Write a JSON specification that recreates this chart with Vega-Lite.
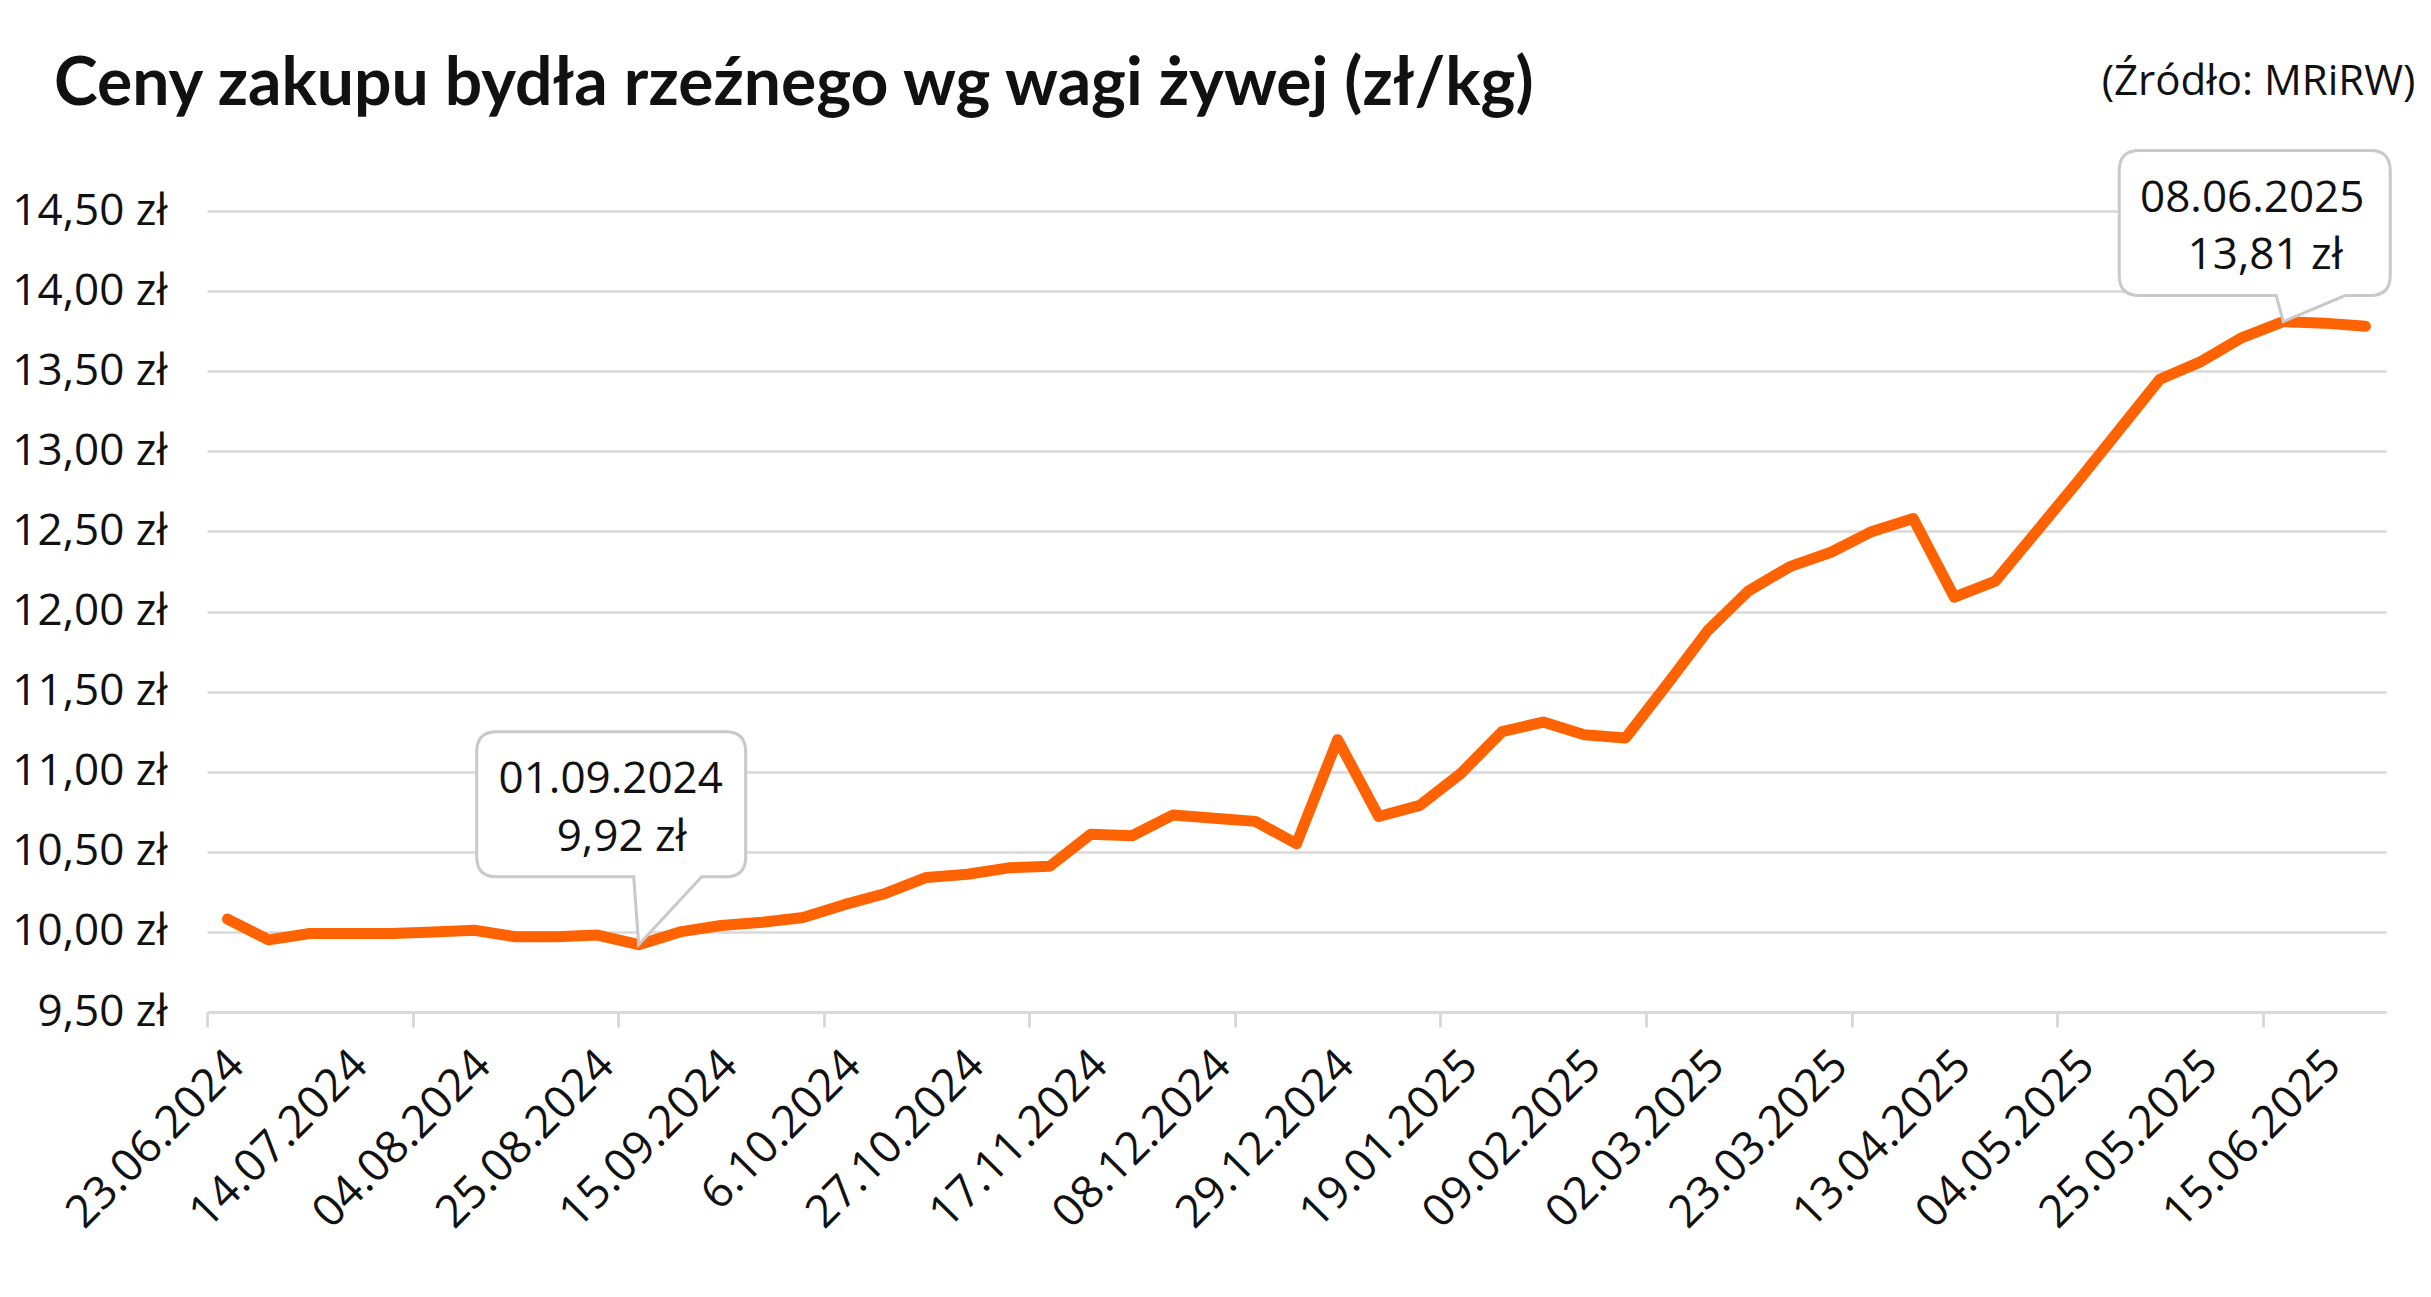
{
  "$schema": "https://vega.github.io/schema/vega-lite/v6.json",
  "width": 2179,
  "height": 801,
  "autosize": "none",
  "padding": {"left": 207, "top": 211, "right": 45, "bottom": 285},
  "background": "white",
  "config": {"view": {"stroke": null}, "font": "Open Sans"},
  "title": {
    "text": "Ceny zakupu bydła rzeźnego wg wagi żywej (zł/kg)",
    "anchor": "start",
    "frame": "group",
    "dx": -153,
    "offset": -110,
    "baseline": "alphabetic",
    "font": "Liberation Sans Narrow, Lato",
    "fontSize": 66,
    "fontWeight": "bold",
    "color": "#111111"
  },
  "data": {
    "values": [
      {"date": "2024-06-23", "value": 10.08},
      {"date": "2024-06-30", "value": 9.95},
      {"date": "2024-07-07", "value": 9.99},
      {"date": "2024-07-14", "value": 9.99},
      {"date": "2024-07-21", "value": 9.99},
      {"date": "2024-07-28", "value": 10.00},
      {"date": "2024-08-04", "value": 10.01},
      {"date": "2024-08-11", "value": 9.97},
      {"date": "2024-08-18", "value": 9.97},
      {"date": "2024-08-25", "value": 9.98},
      {"date": "2024-09-01", "value": 9.92},
      {"date": "2024-09-08", "value": 10.00},
      {"date": "2024-09-15", "value": 10.04},
      {"date": "2024-09-22", "value": 10.06},
      {"date": "2024-09-29", "value": 10.09},
      {"date": "2024-10-06", "value": 10.17},
      {"date": "2024-10-13", "value": 10.24},
      {"date": "2024-10-20", "value": 10.34},
      {"date": "2024-10-27", "value": 10.36},
      {"date": "2024-11-03", "value": 10.40},
      {"date": "2024-11-10", "value": 10.41},
      {"date": "2024-11-17", "value": 10.61},
      {"date": "2024-11-24", "value": 10.60},
      {"date": "2024-12-01", "value": 10.73},
      {"date": "2024-12-08", "value": 10.71},
      {"date": "2024-12-15", "value": 10.69},
      {"date": "2024-12-22", "value": 10.55},
      {"date": "2024-12-29", "value": 11.20},
      {"date": "2025-01-05", "value": 10.72},
      {"date": "2025-01-12", "value": 10.79},
      {"date": "2025-01-19", "value": 10.99},
      {"date": "2025-01-26", "value": 11.25},
      {"date": "2025-02-02", "value": 11.31},
      {"date": "2025-02-09", "value": 11.23},
      {"date": "2025-02-16", "value": 11.21},
      {"date": "2025-02-23", "value": 11.54},
      {"date": "2025-03-02", "value": 11.88},
      {"date": "2025-03-09", "value": 12.13},
      {"date": "2025-03-16", "value": 12.28},
      {"date": "2025-03-23", "value": 12.37},
      {"date": "2025-03-30", "value": 12.50},
      {"date": "2025-04-06", "value": 12.58},
      {"date": "2025-04-13", "value": 12.09},
      {"date": "2025-04-20", "value": 12.19},
      {"date": "2025-04-27", "value": 12.50},
      {"date": "2025-05-04", "value": 12.81},
      {"date": "2025-05-11", "value": 13.13},
      {"date": "2025-05-18", "value": 13.45},
      {"date": "2025-05-25", "value": 13.56},
      {"date": "2025-06-01", "value": 13.71},
      {"date": "2025-06-08", "value": 13.81},
      {"date": "2025-06-15", "value": 13.80},
      {"date": "2025-06-22", "value": 13.78}
    ]
  },
  "encoding": {
    "y": {
      "field": "value",
      "type": "quantitative",
      "scale": {"domain": [9.5, 14.5], "nice": false, "zero": false},
      "axis": {
        "title": null,
        "values": [9.5, 10, 10.5, 11, 11.5, 12, 12.5, 13, 13.5, 14, 14.5],
        "labelExpr": "replace(format(datum.value, '.2f'), '.', ',') + ' zł'",
        "domain": false,
        "ticks": false,
        "labelPadding": 40,
        "labelFontSize": 44,
        "labelFont": "Open Sans",
        "labelColor": "#111111",
        "grid": true,
        "gridColor": "#d9d9d9",
        "gridWidth": 2.5
      }
    }
  },
  "layer": [
    {
      "mark": {"type": "line", "color": "#ff6200", "strokeWidth": 11, "strokeCap": "round", "strokeJoin": "round"},
      "encoding": {
        "x": {
          "field": "date",
          "type": "temporal",
          "scale": {
            "type": "utc",
            "domain": [
              {"year": 2024, "month": 6, "date": 19, "hours": 12, "utc": true},
              {"year": 2025, "month": 6, "date": 25, "hours": 12, "utc": true}
            ]
          },
          "axis": {
            "orient": "bottom",
            "title": null,
            "grid": false,
            "domain": false,
            "ticks": false,
            "labelAngle": -45,
            "labelOverlap": false,
            "labelBound": false,
            "labelFlush": false,
            "labelLimit": 0,
            "labelPadding": 30,
            "labelOffset": -7,
            "labelFontSize": 45,
            "labelFont": "Open Sans",
            "labelColor": "#111111",
            "labelExpr": "utcFormat(datum.value, '%d.%m.%Y') == '06.10.2024' ? '6.10.2024' : utcFormat(datum.value, '%d.%m.%Y')",
            "values": [
              {"year": 2024, "month": 6, "date": 23, "utc": true},
              {"year": 2024, "month": 7, "date": 14, "utc": true},
              {"year": 2024, "month": 8, "date": 4, "utc": true},
              {"year": 2024, "month": 8, "date": 25, "utc": true},
              {"year": 2024, "month": 9, "date": 15, "utc": true},
              {"year": 2024, "month": 10, "date": 6, "utc": true},
              {"year": 2024, "month": 10, "date": 27, "utc": true},
              {"year": 2024, "month": 11, "date": 17, "utc": true},
              {"year": 2024, "month": 12, "date": 8, "utc": true},
              {"year": 2024, "month": 12, "date": 29, "utc": true},
              {"year": 2025, "month": 1, "date": 19, "utc": true},
              {"year": 2025, "month": 2, "date": 9, "utc": true},
              {"year": 2025, "month": 3, "date": 2, "utc": true},
              {"year": 2025, "month": 3, "date": 23, "utc": true},
              {"year": 2025, "month": 4, "date": 13, "utc": true},
              {"year": 2025, "month": 5, "date": 4, "utc": true},
              {"year": 2025, "month": 5, "date": 25, "utc": true},
              {"year": 2025, "month": 6, "date": 15, "utc": true}
            ]
          }
        }
      }
    },
    {
      "transform": [{"filter": "utcFormat(datum.date, '%Y-%m-%d') == '2024-09-01'"}],
      "mark": {
        "type": "point",
        "shape": "M0,0 L0.63,-0.68 L0.87,-0.68 Q1.07,-0.68 1.07,-0.88 L1.07,-1.93 Q1.07,-2.13 0.87,-2.13 L-1.42,-2.13 Q-1.62,-2.13 -1.62,-1.93 L-1.62,-0.88 Q-1.62,-0.68 -1.42,-0.68 L-0.05,-0.68 Z",
        "size": 40000,
        "filled": true,
        "fill": "white",
        "stroke": "#c9c9c9",
        "strokeWidth": 3,
        "opacity": 1
      },
      "encoding": {
        "x": {
          "field": "date",
          "type": "temporal",
          "axis": {
            "orient": "bottom",
            "title": null,
            "grid": false,
            "labels": false,
            "domain": true,
            "domainColor": "#d9d9d9",
            "domainWidth": 3,
            "ticks": true,
            "tickColor": "#d9d9d9",
            "tickWidth": 3,
            "tickSize": 15,
            "values": [
              {"year": 2024, "month": 6, "date": 19, "hours": 12, "utc": true},
              {"year": 2024, "month": 7, "date": 24, "hours": 12, "utc": true},
              {"year": 2024, "month": 8, "date": 28, "hours": 12, "utc": true},
              {"year": 2024, "month": 10, "date": 2, "hours": 12, "utc": true},
              {"year": 2024, "month": 11, "date": 6, "hours": 12, "utc": true},
              {"year": 2024, "month": 12, "date": 11, "hours": 12, "utc": true},
              {"year": 2025, "month": 1, "date": 15, "hours": 12, "utc": true},
              {"year": 2025, "month": 2, "date": 19, "hours": 12, "utc": true},
              {"year": 2025, "month": 3, "date": 26, "hours": 12, "utc": true},
              {"year": 2025, "month": 4, "date": 30, "hours": 12, "utc": true},
              {"year": 2025, "month": 6, "date": 4, "hours": 12, "utc": true}
            ]
          }
        }
      }
    },
    {
      "transform": [
        {"filter": "utcFormat(datum.date, '%Y-%m-%d') == '2024-09-01'"},
        {"calculate": "utcFormat(datum.date, '%d.%m.%Y')", "as": "dateLabel"}
      ],
      "mark": {"type": "text", "align": "center", "baseline": "alphabetic", "dx": -28, "dy": -152, "fontSize": 44, "font": "Open Sans", "color": "#111111"},
      "encoding": {
        "x": {"field": "date", "type": "temporal", "axis": null},
        "text": {"field": "dateLabel"}
      }
    },
    {
      "transform": [
        {"filter": "utcFormat(datum.date, '%Y-%m-%d') == '2024-09-01'"},
        {"calculate": "replace(format(datum.value, '.2f'), '.', ',') + ' zł'", "as": "valueLabel"}
      ],
      "mark": {"type": "text", "align": "center", "baseline": "alphabetic", "dx": -17, "dy": -94, "fontSize": 44, "font": "Open Sans", "color": "#111111"},
      "encoding": {
        "x": {"field": "date", "type": "temporal", "axis": null},
        "text": {"field": "valueLabel"}
      }
    },
    {
      "transform": [{"filter": "utcFormat(datum.date, '%Y-%m-%d') == '2025-06-08'"}],
      "mark": {
        "type": "point",
        "shape": "M0,0 L0.62,-0.26 L0.87,-0.26 Q1.07,-0.26 1.07,-0.46 L1.07,-1.51 Q1.07,-1.71 0.87,-1.71 L-1.44,-1.71 Q-1.64,-1.71 -1.64,-1.51 L-1.64,-0.46 Q-1.64,-0.26 -1.44,-0.26 L-0.07,-0.26 Z",
        "size": 40000,
        "filled": true,
        "fill": "white",
        "stroke": "#c9c9c9",
        "strokeWidth": 3,
        "opacity": 1
      },
      "encoding": {
        "x": {"field": "date", "type": "temporal", "axis": null}
      }
    },
    {
      "transform": [
        {"filter": "utcFormat(datum.date, '%Y-%m-%d') == '2025-06-08'"},
        {"calculate": "utcFormat(datum.date, '%d.%m.%Y')", "as": "dateLabel"}
      ],
      "mark": {"type": "text", "align": "center", "baseline": "alphabetic", "dx": -31, "dy": -110, "fontSize": 44, "font": "Open Sans", "color": "#111111"},
      "encoding": {
        "x": {"field": "date", "type": "temporal", "axis": null},
        "text": {"field": "dateLabel"}
      }
    },
    {
      "transform": [
        {"filter": "utcFormat(datum.date, '%Y-%m-%d') == '2025-06-08'"},
        {"calculate": "replace(format(datum.value, '.2f'), '.', ',') + ' zł'", "as": "valueLabel"}
      ],
      "mark": {"type": "text", "align": "center", "baseline": "alphabetic", "dx": -18, "dy": -53, "fontSize": 44, "font": "Open Sans", "color": "#111111"},
      "encoding": {
        "x": {"field": "date", "type": "temporal", "axis": null},
        "text": {"field": "valueLabel"}
      }
    },
    {
      "transform": [
        {"filter": "utcFormat(datum.date, '%Y-%m-%d') == '2025-06-22'"},
        {"calculate": "'(Źródło: MRiRW)'", "as": "source"}
      ],
      "mark": {"type": "text", "align": "right", "baseline": "alphabetic", "dx": 50, "dy": -116, "fontSize": 42, "font": "Open Sans", "color": "#111111"},
      "encoding": {
        "x": {"field": "date", "type": "temporal", "axis": null},
        "y": {"datum": 14.5, "type": "quantitative"},
        "text": {"field": "source"}
      }
    }
  ],
  "resolve": {"axis": {"x": "independent"}}
}
